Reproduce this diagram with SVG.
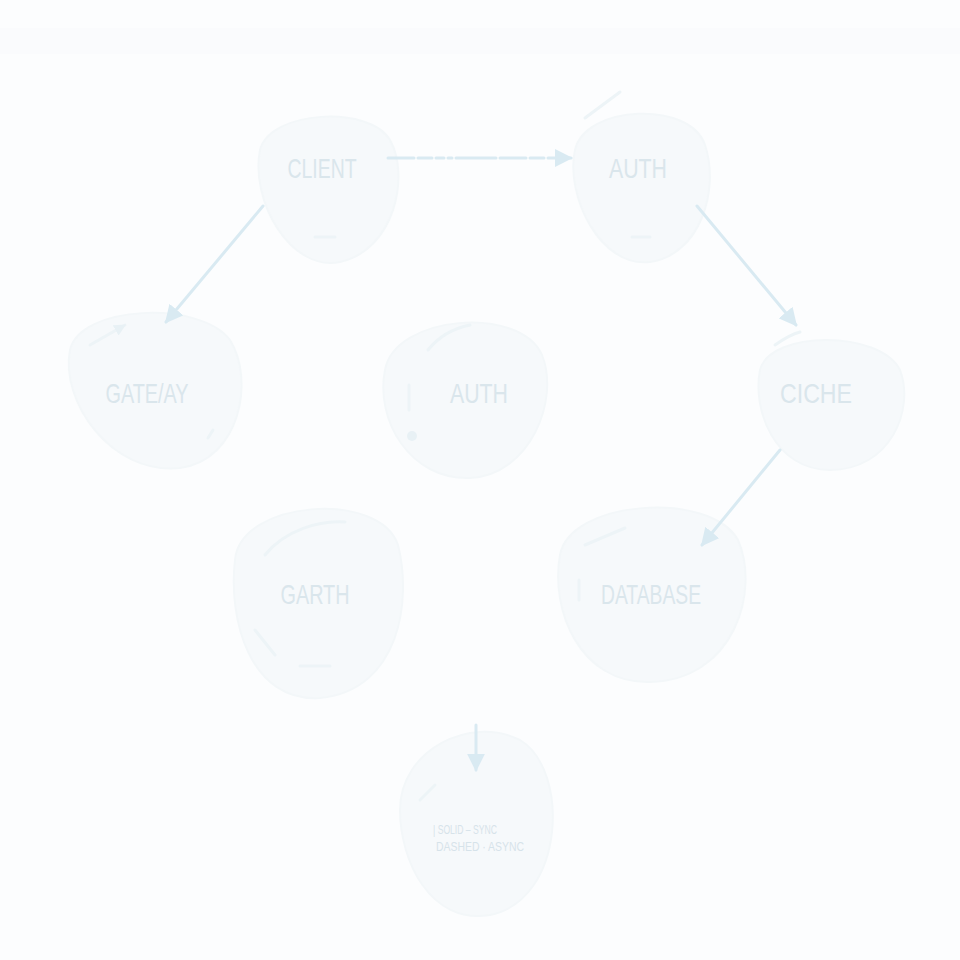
<svg xmlns="http://www.w3.org/2000/svg" width="960" height="960" viewBox="0 0 960 960">
<defs>
<style>
.bg{fill:#fcfdfe}
.blob{fill:#f6f9fb;stroke:#f3f7f9;stroke-width:2}
.lbl{font-family:"Liberation Sans",Arial,sans-serif;font-size:28px;fill:#dae6ec;text-anchor:middle}
.leg{font-family:"Liberation Sans",Arial,sans-serif;font-size:12px;fill:#d6e3ea}
.edge{fill:none;stroke:#d9eaf2;stroke-width:3;stroke-linecap:round}
.deco{fill:none;stroke:#edf4f7;stroke-width:3;stroke-linecap:round}
</style>
<marker id="ah" viewBox="0 0 10 10" refX="9" refY="5" markerWidth="6" markerHeight="6" orient="auto" markerUnits="strokeWidth">
<path d="M0,0 L10,5 L0,10 z" fill="#d9eaf2"/>
</marker>
<marker id="ahs" viewBox="0 0 10 10" refX="9" refY="5" markerWidth="4" markerHeight="4" orient="auto" markerUnits="strokeWidth">
<path d="M0,0 L10,5 L0,10 z" fill="#e8f1f5"/>
</marker>
</defs>
<rect class="bg" x="0" y="0" width="960" height="960"/>
<rect x="0" y="28" width="960" height="26" fill="#f8fafb" opacity="0.6"/>

<g id="node-client">
<path class="blob" d="M260,150 C270,110 370,105 390,140 C410,175 395,250 340,262 C290,272 250,200 260,150 z"/>
<path class="deco" d="M315,237 L335,237"/>
<text class="lbl" x="322" y="178" textLength="69" lengthAdjust="spacingAndGlyphs">CLIENT</text>
</g>
<g id="node-auth-top">
<path class="blob" d="M575,150 C585,105 690,100 705,145 C720,190 700,255 650,262 C600,268 565,195 575,150 z"/>
<path class="deco" d="M585,118 L620,92"/>
<path class="deco" d="M632,237 L650,237"/>
<text class="lbl" x="638" y="178" textLength="58" lengthAdjust="spacingAndGlyphs">AUTH</text>
</g>
<g id="node-gateway">
<path class="blob" d="M70,350 C80,305 200,300 230,340 C255,380 240,460 180,468 C110,475 60,400 70,350 z"/>
<path class="deco" d="M90,345 L125,325" marker-end="url(#ahs)"/>
<path class="deco" d="M208,438 L213,430"/>
<text class="lbl" x="147" y="403" textLength="83" lengthAdjust="spacingAndGlyphs">GATE/AY</text>
</g>
<g id="node-auth-mid">
<path class="blob" d="M385,370 C395,315 520,305 542,355 C560,400 530,475 470,478 C410,480 375,420 385,370 z"/>
<path class="deco" d="M428,350 C440,335 455,328 470,325"/>
<path class="deco" d="M409,385 L409,410"/>
<circle cx="412" cy="436" r="5" fill="#e8f1f5"/>
<text class="lbl" x="479" y="403" textLength="58" lengthAdjust="spacingAndGlyphs">AUTH</text>
</g>
<g id="node-cache">
<path class="blob" d="M760,370 C770,330 880,330 900,370 C915,410 890,470 830,470 C775,470 752,410 760,370 z"/>
<path class="deco" d="M775,345 C785,338 792,334 800,332"/>
<text class="lbl" x="816" y="403" textLength="72" lengthAdjust="spacingAndGlyphs">CICHE</text>
</g>
<g id="node-garth">
<path class="blob" d="M235,560 C240,500 380,490 398,545 C412,600 400,690 320,698 C250,702 228,620 235,560 z"/>
<path class="deco" d="M265,555 C285,530 320,520 345,522"/>
<path class="deco" d="M255,630 L275,655"/>
<path class="deco" d="M300,666 L330,666"/>
<text class="lbl" x="315" y="604" textLength="69" lengthAdjust="spacingAndGlyphs">GARTH</text>
</g>
<g id="node-database">
<path class="blob" d="M560,555 C570,500 710,490 738,540 C760,590 735,680 650,682 C580,684 550,610 560,555 z"/>
<path class="deco" d="M585,545 L625,528"/>
<path class="deco" d="M579,580 L579,600"/>
<text class="lbl" x="651" y="604" textLength="100" lengthAdjust="spacingAndGlyphs">DATABASE</text>
</g>
<g id="legend">
<path class="blob" d="M400,810 C400,750 470,715 520,740 C570,770 565,900 490,915 C430,925 400,860 400,810 z"/>
<path class="deco" d="M420,800 L435,785"/>
<text class="leg" x="433" y="834" textLength="64" lengthAdjust="spacingAndGlyphs">| SOLID – SYNC</text>
<text class="leg" x="436" y="851" textLength="88" lengthAdjust="spacingAndGlyphs">DASHED · ASYNC</text>
</g>

<g id="connectors">
<path class="edge" d="M388,158 L571,158" stroke-dasharray="26,4,14,4,8,4,4,4,40,4" marker-end="url(#ah)"/>
<path class="edge" d="M263,206 L166,322" marker-end="url(#ah)"/>
<path class="edge" d="M697,206 L796,325" marker-end="url(#ah)"/>
<path class="edge" d="M780,450 L702,545" marker-end="url(#ah)"/>
<path class="edge" d="M476,725 L476,770" marker-end="url(#ah)"/>
</g>
</svg>
